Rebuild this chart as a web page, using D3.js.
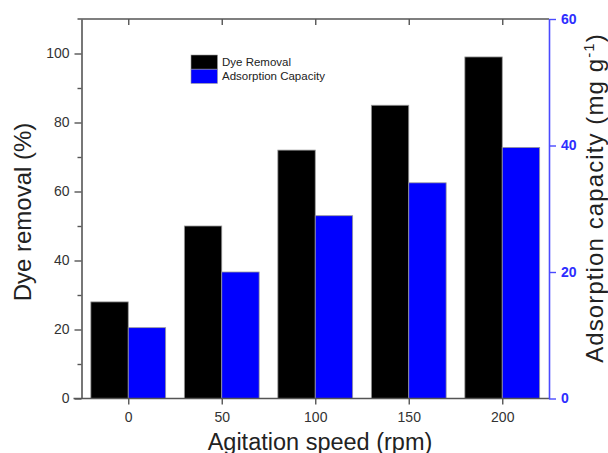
<!DOCTYPE html>
<html>
<head>
<meta charset="utf-8">
<script src="https://cdn.jsdelivr.net/npm/d3@7"></script>
<style>
  html, body { margin: 0; padding: 0; background: #fff; }
  svg { display: block; font-family: "Liberation Sans", Arial, Helvetica, sans-serif; }
</style>
</head>
<body>
<svg id="chart" width="608" height="453"></svg>
<script>
// Agitation speed (rpm)
const speeds = [0, 50, 100, 150, 200];
// Dye removal (%)
const dyeRemoval = [28, 50, 72, 85, 99];
// Adsorption capacity (mg g-1)
const adsorption = [11.2, 20, 28.9, 34.1, 39.7];

const xTicks = [0, 50, 100, 150, 200];
const yLeftTicks = [0, 20, 40, 60, 80, 100];
const yLeftMinor = [10, 30, 50, 70, 90];
const yRightTicks = [0, 20, 40, 60];

const barSpan = 20; // rpm units covered by each bar

const svg = d3.select("#chart");
const plotLeft = 81.5, plotRight = 549, plotTop = 19, plotBottom = 398.5;

const x = d3.scaleLinear().domain([-25, 225]).range([plotLeft, plotRight]);
const yL = d3.scaleLinear().domain([0, 110]).range([plotBottom, plotTop]);
const yR = d3.scaleLinear().domain([0, 60]).range([plotBottom, plotTop]);

const axisGrey = "#555";
const blueAxis = "#4a4aff";
const tickText = "#333";

// bars
const rows = speeds.map((s, i) => ({ s, dye: dyeRemoval[i], ads: adsorption[i] }));

svg.append("g").selectAll("rect").data(rows).join("rect")
  .attr("x", d => x(d.s - barSpan))
  .attr("width", d => x(d.s) - x(d.s - barSpan))
  .attr("y", d => yL(d.dye))
  .attr("height", d => yL(0) - yL(d.dye))
  .attr("fill", "#000")
  .attr("stroke", "#999").attr("stroke-width", 0.8);

svg.append("g").selectAll("rect").data(rows).join("rect")
  .attr("x", d => x(d.s))
  .attr("width", d => x(d.s + barSpan) - x(d.s))
  .attr("y", d => yR(d.ads))
  .attr("height", d => yR(0) - yR(d.ads))
  .attr("fill", "#0000ff")
  .attr("stroke", "#999").attr("stroke-width", 0.8);

function styleAxis(g, color, fontSize) {
  g.select(".domain").attr("stroke", color).attr("stroke-width", 1.6);
  g.selectAll(".tick line").attr("stroke", color).attr("stroke-width", 1.4);
  g.selectAll(".tick text").attr("fill", color === blueAxis ? "#2d2dff" : tickText)
    .attr("font-size", fontSize).attr("font-family", "Liberation Sans, Arial, sans-serif");
}

// bottom axis
const gx = svg.append("g").attr("transform", `translate(0,${plotBottom})`)
  .call(d3.axisBottom(x).tickValues(xTicks).tickSize(6).tickPadding(8).tickSizeOuter(0));
styleAxis(gx, axisGrey, 14);
gx.select(".domain").attr("d", `M${plotLeft - 8},0H${plotRight}`);

// top frame with inward ticks
const gt = svg.append("g").attr("transform", `translate(0,${plotTop})`)
  .call(d3.axisTop(x).tickValues(xTicks).tickSize(-6).tickFormat("").tickSizeOuter(0));
styleAxis(gt, axisGrey, 14);
gt.select(".domain").attr("d", `M${plotLeft - 4},0H${plotRight}`);

// left axis: minor ticks then major ticks
const gLm = svg.append("g").attr("transform", `translate(${plotLeft},0)`)
  .call(d3.axisLeft(yL).tickValues(yLeftMinor).tickSize(4).tickFormat("").tickSizeOuter(0));
styleAxis(gLm, axisGrey, 14);
gLm.select(".domain").remove();

const gL = svg.append("g").attr("transform", `translate(${plotLeft},0)`)
  .call(d3.axisLeft(yL).tickValues(yLeftTicks).tickSize(7).tickPadding(5).tickSizeOuter(0));
styleAxis(gL, axisGrey, 14);

// right axis (blue)
const gR = svg.append("g").attr("transform", `translate(${plotRight},0)`)
  .call(d3.axisRight(yR).tickValues(yRightTicks).tickSize(7).tickPadding(5).tickSizeOuter(0));
styleAxis(gR, blueAxis, 14);
gR.selectAll(".tick text").attr("font-weight", "bold");

// axis titles
svg.append("text")
  .attr("transform", `translate(31,212) rotate(-90)`)
  .attr("text-anchor", "middle")
  .attr("font-size", 24).attr("fill", "#222")
  .text("Dye removal (%)");

const rt = svg.append("text")
  .attr("transform", `translate(603,198) rotate(-90)`)
  .attr("text-anchor", "middle")
  .attr("font-size", 24).attr("letter-spacing", 1.1).attr("fill", "#222");
rt.append("tspan").text("Adsorption capacity (mg g");
rt.append("tspan").attr("font-size", 15).attr("dy", -9).text("-1");
rt.append("tspan").attr("dy", 9).text(")");

svg.append("text")
  .attr("x", 320).attr("y", 449.5)
  .attr("text-anchor", "middle")
  .attr("font-size", 23.5).attr("fill", "#222")
  .text("Agitation speed (rpm)");

// legend
const legendItems = [
  { label: "Dye Removal", color: "#000" },
  { label: "Adsorption Capacity", color: "#0000ff" }
];
const lg = svg.append("g").attr("transform", "translate(191,55)");
lg.selectAll("rect").data(legendItems).join("rect")
  .attr("x", 0).attr("y", (d, i) => i * 14.2)
  .attr("width", 26.5).attr("height", 14.2)
  .attr("fill", d => d.color)
  .attr("stroke", "#999").attr("stroke-width", 0.6);
lg.selectAll("text").data(legendItems).join("text")
  .attr("x", 31).attr("y", (d, i) => i * 14.2 + 11.2)
  .attr("font-size", 11.5).attr("fill", "#222")
  .text(d => d.label);
</script>
</body>
</html>
